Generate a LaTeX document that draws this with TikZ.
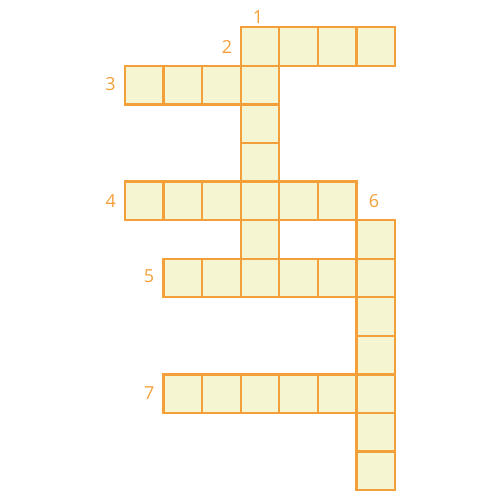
\documentclass[tikz,border=0pt]{standalone}
\usepackage{fontspec}
\setmainfont{Open Sans}
\definecolor{cellfill}{HTML}{F5F5D2}
\definecolor{cellline}{HTML}{F4A03A}
\begin{document}
\begin{tikzpicture}[x=1pt,y=-1pt,
  cell/.style={draw=cellline,fill=cellfill,line width=2.3pt,minimum size=38.57pt,inner sep=0pt,outer sep=0pt,anchor=north west},
  num/.style={text=cellline,font=\fontsize{18}{18}\selectfont,inner sep=0pt}]
\useasboundingbox (0,0) rectangle (500,500);
\def\s{38.57}
\def\xo{125}
\def\yo{27.3}
% cells: (col,row)
\foreach \c/\r in {3/0,4/0,5/0,6/0,
                   0/1,1/1,2/1,3/1,
                   3/2,3/3,
                   0/4,1/4,2/4,3/4,4/4,5/4,
                   3/5,6/5,
                   1/6,2/6,3/6,4/6,5/6,6/6,
                   6/7,6/8,
                   1/9,2/9,3/9,4/9,5/9,6/9,
                   6/10,6/11}{
  \node[cell] (c\c-\r) at ({\xo+\c*\s},{\yo+\r*\s}) {};
}
\node[num] (n1) at (258,17) {1};
\node[num] (n2) at (227,46.5) {2};
\node[num] (n3) at (110.5,84.5) {3};
\node[num] (n4) at (110.7,200.7) {4};
\node[num] (n6) at (374,200.7) {6};
\node[num] (n5) at (149,275.7) {5};
\node[num] (n7) at (149.3,392.7) {7};
\end{tikzpicture}
\end{document}
